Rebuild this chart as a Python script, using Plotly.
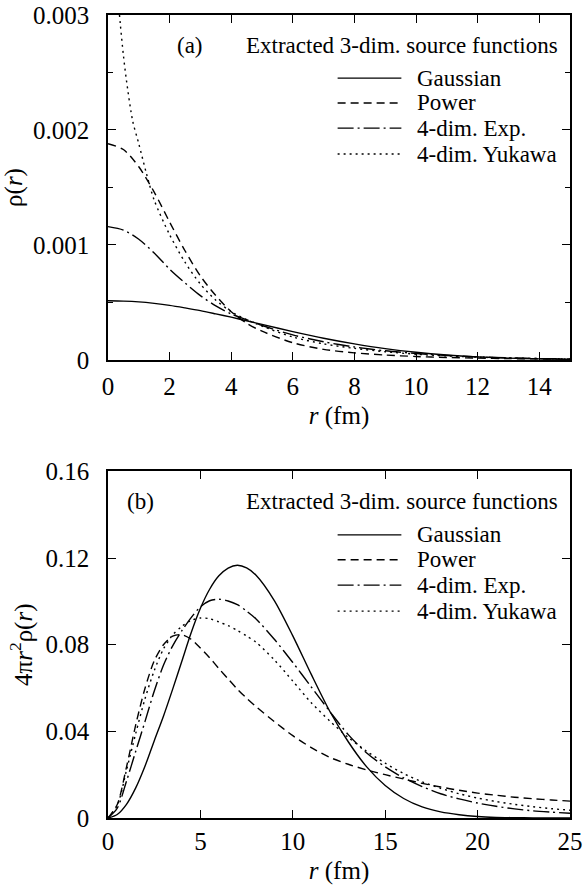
import plotly.graph_objects as go

# ---------------- data: panel (a) rho(r) ----------------
r_a = [0, 0.5, 1, 1.5, 2, 2.5, 3, 3.5, 4, 4.5, 5, 6, 7, 8, 9, 10, 11, 12, 13, 14, 15]
gauss_a = [0.000515, 0.000512, 0.000505, 0.000492, 0.000475, 0.000453, 0.000429, 0.000401,
           0.000372, 0.000341, 0.000309, 0.000247, 0.000189, 0.000140, 0.0000986, 0.0000669,
           0.0000436, 0.0000273, 0.0000163, 0.0000094, 0.0000052]
power_a = [0.00188, 0.00183, 0.00168, 0.00146, 0.00120, 0.00095, 0.00073, 0.00056,
           0.00042, 0.00032, 0.000250, 0.000150, 0.0000920, 0.0000620, 0.0000430, 0.0000300,
           0.0000215, 0.0000160, 0.0000120, 0.0000092, 0.0000072]
exp4_a = [0.00116, 0.00113, 0.00105, 0.00093, 0.00079, 0.00067, 0.00056, 0.00047,
          0.00040, 0.00035, 0.000300, 0.000218, 0.000158, 0.000113, 0.0000800, 0.0000565,
          0.0000395, 0.0000272, 0.0000180, 0.0000122, 0.0000085]
r_a_yuk = [0.2, 0.3, 0.4, 0.5, 0.6, 0.8, 1, 1.25, 1.5, 2, 2.5, 3, 3.5, 4, 4.5, 5, 6, 7, 8, 9,
           10, 11, 12, 13, 14, 15]
yuk4_a = [0.0042, 0.00325, 0.00292, 0.00265, 0.00243, 0.00208, 0.00188, 0.00162, 0.00139,
          0.00109, 0.00085, 0.00066, 0.00052, 0.00042, 0.00035, 0.000294, 0.000200, 0.000140,
          0.000101, 0.0000717, 0.0000501, 0.0000350, 0.0000246, 0.0000172, 0.0000122, 0.0000088]

# ---------------- data: panel (b) 4 pi r^2 rho(r) ----------------
r_b = [0, 0.5, 1, 1.5, 2, 2.5, 3, 3.5, 4, 4.5, 5, 5.5, 6, 6.5, 7, 7.5, 8, 9, 10, 11, 12, 13,
       14, 15, 16, 17, 18, 19, 20, 21, 22, 23, 24, 25]
gauss_b = [0, 0.0016, 0.0063, 0.0139, 0.0239, 0.0356, 0.0470, 0.0595, 0.0725, 0.0855, 0.0968,
           0.1056, 0.1118, 0.1154, 0.1167, 0.1155, 0.1122, 0.1004, 0.0841, 0.0663, 0.0493,
           0.0352, 0.0236, 0.0150, 0.0090, 0.0051, 0.0028, 0.0015, 0.0007, 0.0003, 0.00016,
           0.00007, 0.00003, 0.00001]
power_b = [0, 0.0062, 0.0235, 0.0430, 0.0598, 0.0725, 0.0800, 0.0840, 0.0846, 0.0825, 0.0785,
           0.0740, 0.0690, 0.0642, 0.0595, 0.0553, 0.0515, 0.0445, 0.0380, 0.0325, 0.0280,
           0.0248, 0.0222, 0.0200, 0.0180, 0.0160, 0.0143, 0.0128, 0.0115, 0.0105, 0.0096,
           0.0089, 0.0083, 0.0078]
exp4_b = [0, 0.0045, 0.0170, 0.0308, 0.0445, 0.0585, 0.0705, 0.0795, 0.0865, 0.0925, 0.0975,
          0.1003, 0.1010, 0.1002, 0.0985, 0.0955, 0.0920, 0.0825, 0.0718, 0.0605, 0.0492,
          0.0385, 0.0300, 0.0236, 0.0185, 0.0145, 0.0112, 0.0088, 0.0069, 0.0054, 0.0042,
          0.0033, 0.0027, 0.0022]
yuk4_b = [0, 0.0058, 0.0220, 0.0390, 0.0550, 0.0680, 0.0780, 0.0845, 0.0885, 0.0912, 0.0923,
          0.0920, 0.0905, 0.0888, 0.0866, 0.0840, 0.0812, 0.0730, 0.0632, 0.0532, 0.0448,
          0.0372, 0.0308, 0.0253, 0.0205, 0.0167, 0.0137, 0.0112, 0.0092, 0.0076, 0.0063,
          0.0052, 0.0043, 0.0036]

# ---------------- tick labels ----------------
xa_ticks = [0, 2, 4, 6, 8, 10, 12, 14]
ya_ticks = [0, 0.001, 0.002, 0.003]
ya_labels = ["0", "0.001", "0.002", "0.003"]
xb_ticks = [0, 5, 10, 15, 20, 25]
yb_ticks = [0, 0.04, 0.08, 0.12, 0.16]
yb_labels = ["0", "0.04", "0.08", "0.12", "0.16"]

series_names = ["Gaussian", "Power", "4-dim. Exp.", "4-dim. Yukawa"]
header = "Extracted 3-dim. source functions"

FONT = "Liberation Serif"
dashes = ["solid", "8px,5px", "16px,4px,2px,4px", "2px,4px"]
LW = 1.4

fig = go.Figure()
panel_a = [(r_a, gauss_a), (r_a, power_a), (r_a, exp4_a), (r_a_yuk, yuk4_a)]
panel_b = [(r_b, gauss_b), (r_b, power_b), (r_b, exp4_b), (r_b, yuk4_b)]
for i, (xs, ys) in enumerate(panel_a):
    fig.add_trace(go.Scatter(x=xs, y=ys, mode="lines", name=series_names[i],
                             line=dict(color="black", width=LW, dash=dashes[i],
                                       shape="spline", smoothing=0.8),
                             xaxis="x", yaxis="y", showlegend=False))
for i, (xs, ys) in enumerate(panel_b):
    fig.add_trace(go.Scatter(x=xs, y=ys, mode="lines", name=series_names[i],
                             line=dict(color="black", width=LW, dash=dashes[i],
                                       shape="spline", smoothing=0.8),
                             xaxis="x2", yaxis="y2", showlegend=False))

TICKFONT = dict(family=FONT, size=25, color="black")
TITLEFONT = dict(family=FONT, size=25, color="black")
common = dict(showline=True, linecolor="black", linewidth=1.5, mirror="allticks",
              ticks="inside", ticklen=8, tickwidth=1.2, tickcolor="black",
              showgrid=False, zeroline=False, tickfont=TICKFONT, automargin=False,
              ticklabeloverflow="allow")

fig.update_layout(
    width=583, height=889,
    margin=dict(l=108, r=13, t=15, b=71),
    paper_bgcolor="white", plot_bgcolor="white",
    font=dict(family=FONT, color="black"),
    xaxis=dict(domain=[0, 1], range=[0, 15], tickvals=xa_ticks, anchor="y",
               title=dict(text="<i>r</i> (fm)", font=TITLEFONT, standoff=8),
               ticklabelstandoff=3, **common),
    yaxis=dict(domain=[0.5704, 1], range=[0, 0.003], tickvals=ya_ticks, ticktext=ya_labels,
               anchor="x", title=dict(text="ρ(<i>r</i>)", font=TITLEFONT, standoff=6),
               minor=dict(ticks="inside", ticklen=5, dtick=0.0005, tickcolor="black", tickwidth=1),
               ticklabelstandoff=12, **common),
    xaxis2=dict(domain=[0, 1], range=[0, 25], tickvals=xb_ticks, anchor="y2",
                title=dict(text="<i>r</i> (fm)", font=TITLEFONT, standoff=8),
                ticklabelstandoff=0, **common),
    yaxis2=dict(domain=[0, 0.4316], range=[0, 0.16], tickvals=yb_ticks, ticktext=yb_labels,
                anchor="x2", title=dict(text="4π<i>r</i><sup>2</sup>ρ(<i>r</i>)", font=TITLEFONT, standoff=6),
                ticklabelstandoff=12, **common),
)

TXT = dict(family=FONT, size=23, color="black")
legend_y = [0.817, 0.745, 0.672, 0.597]
for xr, yr, tag, tagx in [("x domain", "y domain", "(a)", 0.178), ("x2 domain", "y2 domain", "(b)", 0.071)]:
    fig.add_annotation(x=tagx, y=0.913, xref=xr, yref=yr, text=tag, showarrow=False,
                       font=TXT, xanchor="center", yanchor="middle")
    fig.add_annotation(x=0.978, y=0.913, xref=xr, yref=yr, text=header, showarrow=False,
                       font=TXT, xanchor="right", yanchor="middle")
    for i, name in enumerate(series_names):
        fig.add_annotation(x=0.664, y=legend_y[i], xref=xr, yref=yr, text=name, showarrow=False,
                           font=TXT, xanchor="left", yanchor="middle")
        fig.add_shape(type="line", xref=xr, yref=yr, x0=0.497, x1=0.635,
                      y0=legend_y[i], y1=legend_y[i],
                      line=dict(color="black", width=LW, dash=dashes[i]))

# remove the default page margin so the 583x889 figure fills the window exactly
fig.write_html("out.html", config={"displayModeBar": False},
               post_script="document.body.style.margin='0';")
